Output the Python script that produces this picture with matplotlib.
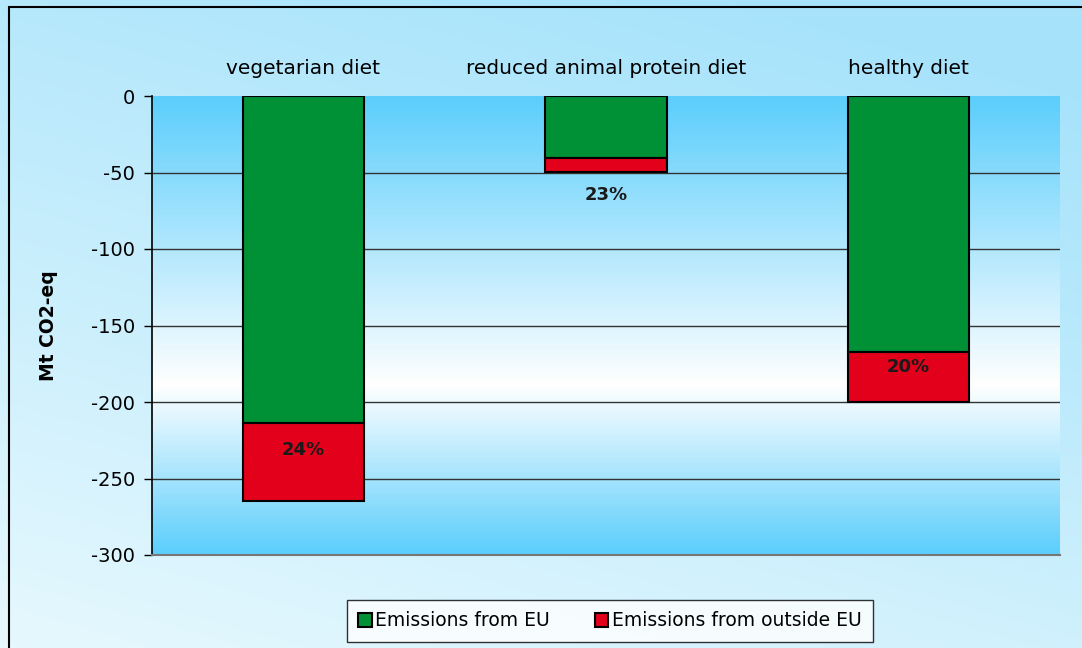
import numpy as np
import matplotlib

matplotlib.use("Agg")
import matplotlib.pyplot as plt
from matplotlib.colors import LinearSegmentedColormap
from matplotlib.patches import Rectangle

categories = ["vegetarian diet", "reduced animal protein diet", "healthy diet"]
emissions_eu = [-214.0, -40.5, -167.5]
emissions_outside = [-51.0, -9.0, -32.5]
share_labels = ["24%", "23%", "20%"]

GREEN = "#009035"
RED = "#e2001a"

plt.rcParams["font.family"] = "DejaVu Sans"
plt.rcParams["axes.unicode_minus"] = False

fig = plt.figure(figsize=(10.82, 6.48), dpi=100)

# outer background gradient
bg = fig.add_axes([0, 0, 1, 1], zorder=-10)
bg_cmap = LinearSegmentedColormap.from_list("bg", ["#e6f8fe", "#a6e3fb"])
yy, xx = np.mgrid[0:1:200j, 0:1:200j]
bg.imshow(0.75 * yy + 0.35 * xx, cmap=bg_cmap, origin="lower", extent=[0, 1, 0, 1],
          aspect="auto", vmin=0, vmax=1.0)
bg.add_patch(Rectangle((9 / 1082, -0.01), 1.02, 1 - 7 / 648 + 0.01, fill=False,
                       edgecolor="black", linewidth=1.5, transform=bg.transAxes))
bg.set_xlim(0, 1)
bg.set_ylim(0, 1)
bg.axis("off")

ax = fig.add_axes([152 / 1082, 1 - 555 / 648, 908 / 1082, 459 / 648])
x = np.arange(len(categories))

# plot-area gradient: blue top, white around -190, blue bottom
grad_cmap = LinearSegmentedColormap.from_list(
    "plot", [(0.0, "#5ccefc"), (0.37, "#ffffff"), (1.0, "#5ccefc")]
)
grad = np.linspace(0, 1, 300).reshape(-1, 1)
ax.imshow(grad, cmap=grad_cmap, extent=[-0.5, 2.5, -300, 0], aspect="auto",
          origin="lower", zorder=0)

for val in range(-250, 0, 50):
    ax.axhline(val, color="#333333", linewidth=1.0, zorder=1)

ax.bar(x, emissions_eu, width=0.4, color=GREEN, edgecolor="black", linewidth=1.5,
       label="Emissions from EU", zorder=3)
ax.bar(x, emissions_outside, width=0.4, bottom=emissions_eu, color=RED,
       edgecolor="black", linewidth=1.5, label="Emissions from outside EU", zorder=3)

# share labels (offset in pixels below the green segment / below the bar)
offsets = [(emissions_eu[0], -27), (emissions_eu[1] + emissions_outside[1], -23),
           (emissions_eu[2], -15)]
for xi, (yref, dy), text in zip(x, offsets, share_labels):
    ax.annotate(text, (xi, yref), xytext=(0, dy), textcoords="offset pixels",
                ha="center", va="center", fontsize=13, fontweight="bold",
                color="#1a1a1a", zorder=4)

ax.set_xlim(-0.5, 2.5)
ax.set_ylim(-300, 0)
ax.set_yticks(range(-300, 1, 50))
ax.tick_params(axis="y", labelsize=14, length=6, width=1.0, pad=6)
ax.xaxis.tick_top()
ax.set_xticks(x)
ax.set_xticklabels(categories, fontsize=14.5)
ax.tick_params(axis="x", length=0, pad=13)
ax.set_ylabel("Mt CO2-eq", fontsize=13.5, fontweight="bold")
ax.yaxis.set_label_coords((58 - 152) / 908, 0.5)

for side in ["top", "right"]:
    ax.spines[side].set_visible(False)
ax.spines["left"].set_linewidth(1.2)
ax.spines["bottom"].set_color("#777777")
ax.spines["bottom"].set_linewidth(1.5)

fig.legend(loc="center", bbox_to_anchor=(610 / 1082, 1 - 621 / 648), ncol=2,
           fontsize=13.5, frameon=True, fancybox=False, edgecolor="black",
           handlelength=0.7, handleheight=0.7, handletextpad=0.2, columnspacing=2.4,
           borderpad=0.6, borderaxespad=0)

fig.savefig("out.png", dpi=100)
